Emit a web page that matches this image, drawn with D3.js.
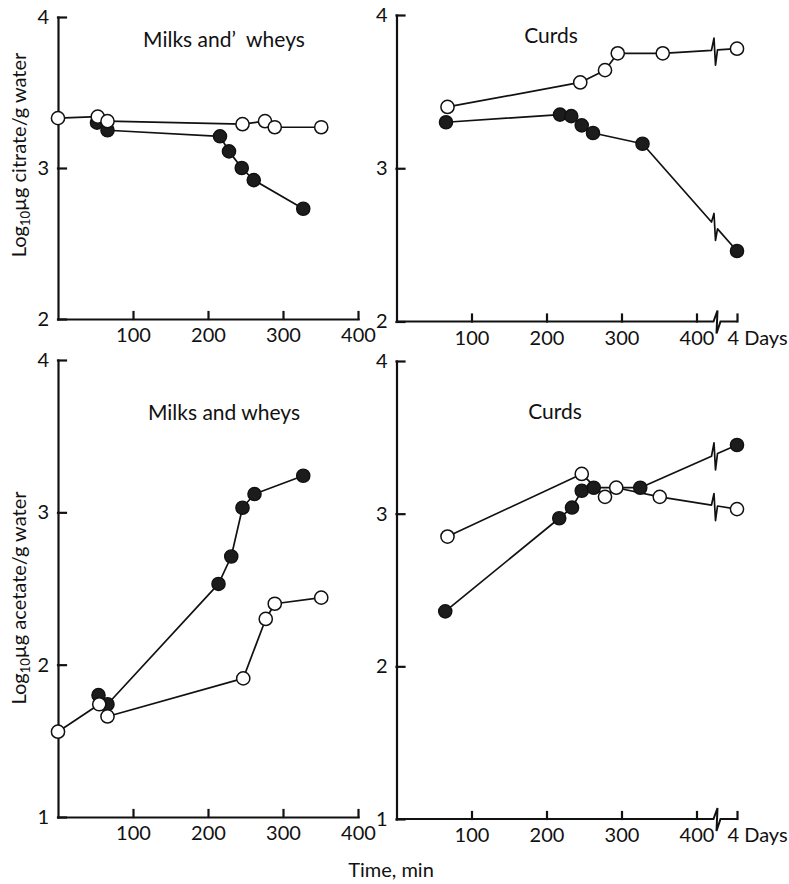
<!DOCTYPE html>
<html>
<head>
<meta charset="utf-8">
<script src="https://cdn.jsdelivr.net/npm/d3@7"></script>
<style>
  html, body { margin: 0; padding: 0; background: #fff; }
  svg text { font-family: Lato, "Open Sans", sans-serif; fill: #111; }
</style>
</head>
<body>
<svg id="chart" width="789" height="884"></svg>
<script>
// Times are in minutes; the last curd sample is taken after 4 days.
const FOUR_DAYS = 5760;
const BREAK_AT = 428;           // where the broken time axis is cut

const minuteTicks = [100, 200, 300, 400];
const curdTicks = [100, 200, 300, 400, FOUR_DAYS];
const citrateTicks = [2, 3, 4];
const acetateTicks = [1, 2, 3, 4];

// Citrate, milks and wheys
const citMilkOpenT   = [0, 53, 66, 246, 276, 289, 351];
const citMilkOpenV   = [3.33, 3.34, 3.31, 3.29, 3.31, 3.27, 3.27];
const citMilkFilledT = [52, 66, 216, 228, 245, 261, 327];
const citMilkFilledV = [3.30, 3.25, 3.21, 3.11, 3.00, 2.92, 2.73];

// Citrate, curds
const citCurdOpenT   = [68, 245, 278, 295, 355, FOUR_DAYS];
const citCurdOpenV   = [3.40, 3.56, 3.64, 3.75, 3.75, 3.78];
const citCurdFilledT = [66, 218, 233, 247, 262, 328, FOUR_DAYS];
const citCurdFilledV = [3.30, 3.35, 3.34, 3.28, 3.23, 3.16, 2.46];

// Acetate, milks and wheys
const aceMilkOpenT   = [0, 55, 66, 247, 277, 289, 351];
const aceMilkOpenV   = [1.56, 1.74, 1.66, 1.91, 2.30, 2.40, 2.44];
const aceMilkFilledT = [54, 66, 214, 231, 246, 262, 327];
const aceMilkFilledV = [1.80, 1.74, 2.53, 2.71, 3.03, 3.12, 3.24];

// Acetate, curds
const aceCurdOpenT   = [68, 247, 278, 293, 351, FOUR_DAYS];
const aceCurdOpenV   = [2.85, 3.26, 3.11, 3.17, 3.11, 3.03];
const aceCurdFilledT = [65, 217, 234, 247, 263, 325, FOUR_DAYS];
const aceCurdFilledV = [2.36, 2.97, 3.04, 3.15, 3.17, 3.17, 3.45];

const svg = d3.select("#chart");
const INK = "#111";

const panels = [
  { left: 58,    bottom: 319,   top: 17,  yDomain: [2, 4], yTicks: citrateTicks, broken: false,
    title: "Milks and\u2019  wheys", titleX: 224, titleY: 47,
    open: [citMilkOpenT, citMilkOpenV], filled: [citMilkFilledT, citMilkFilledV] },
  { left: 396.5, bottom: 321.5, top: 15,  yDomain: [2, 4], yTicks: citrateTicks, broken: true,
    title: "Curds", titleX: 551, titleY: 43,
    open: [citCurdOpenT, citCurdOpenV], filled: [citCurdFilledT, citCurdFilledV] },
  { left: 58,    bottom: 817,   top: 360, yDomain: [1, 4], yTicks: acetateTicks, broken: false,
    title: "Milks and wheys", titleX: 224, titleY: 420,
    open: [aceMilkOpenT, aceMilkOpenV], filled: [aceMilkFilledT, aceMilkFilledV] },
  { left: 396.5, bottom: 819,   top: 361, yDomain: [1, 4], yTicks: acetateTicks, broken: true,
    title: "Curds", titleX: 555, titleY: 419,
    open: [aceCurdOpenT, aceCurdOpenV], filled: [aceCurdFilledT, aceCurdFilledV] }
];

function zip(t, v) { return t.map((d, i) => ({ t: d, v: v[i] })); }

// Line path through the points; a segment that jumps over the axis
// break gets a small zig-zag where it crosses the cut.
function seriesPath(pts, x, y, xb) {
  let d = "";
  pts.forEach((p, i) => {
    const px = x(p.t), py = y(p.v);
    if (i === 0) { d += `M${px},${py}`; return; }
    const q = pts[i - 1];
    const qx = x(q.t), qy = y(q.v);
    if (xb !== null && qx < xb && px > xb) {
      const at = xx => qy + (py - qy) * (xx - qx) / (px - qx);
      const x1 = xb - 3, x2 = xb + 3;
      d += `L${x1},${at(x1)}L${xb - 0.5},${at(xb) - 12}L${xb + 1},${at(xb) + 15}L${x2},${at(x2)}`;
    }
    d += `L${px},${py}`;
  });
  return d;
}

panels.forEach(p => {
  const g = svg.append("g");

  const y = d3.scaleLinear().domain(p.yDomain).range([p.bottom, p.top]);
  const x = p.broken
    ? d3.scaleLinear().domain([0, BREAK_AT, FOUR_DAYS])
        .range([p.left, p.left + 0.75 * BREAK_AT, p.left + 340.5])
    : d3.scaleLinear().domain([0, 400]).range([p.left, p.left + 300]);

  // y axis with inward ticks
  const yAxis = g.append("g")
    .attr("transform", `translate(${p.left},0)`)
    .call(d3.axisLeft(y).tickValues(p.yTicks).tickFormat(d3.format("d"))
      .tickSizeInner(-8).tickSizeOuter(0).tickPadding(9));

  // x axis with inward ticks
  const xAxis = g.append("g")
    .attr("transform", `translate(0,${p.bottom})`)
    .call(d3.axisBottom(x).tickValues(p.broken ? curdTicks : minuteTicks)
      .tickFormat(d => d === FOUR_DAYS ? "4 Days" : d3.format("d")(d))
      .tickSizeInner(-7).tickSizeOuter(0).tickPadding(9));

  [yAxis, xAxis].forEach(a => {
    a.selectAll(".domain, .tick line")
      .attr("stroke", INK).attr("stroke-width", 2.2).attr("stroke-linecap", "square");
    a.selectAll(".tick text").attr("font-size", 20).attr("fill", INK)
      .style("font-family", "Lato, 'Open Sans', sans-serif");
  });

  if (p.broken) {
    xAxis.select(".domain").remove();
    const xb = x(BREAK_AT) - 1;
    const x0 = x.range()[0], x1 = x.range()[2];
    g.append("path")
      .attr("d", `M${x0},${p.bottom}H${xb - 3}L${xb + 1},${p.bottom - 11}L${xb},${p.bottom + 12}L${xb + 4},${p.bottom}H${x1}`)
      .attr("fill", "none").attr("stroke", INK).attr("stroke-width", 2)
      .attr("stroke-linejoin", "miter");
    xAxis.selectAll(".tick text")
      .filter(d => d === FOUR_DAYS)
      .attr("text-anchor", "start").attr("dx", -10);
  }

  // series lines
  const xbData = p.broken ? x(BREAK_AT) - 3 : null;
  const openPts = zip(p.open[0], p.open[1]);
  const filledPts = zip(p.filled[0], p.filled[1]);
  [filledPts, openPts].forEach(pts => {
    g.append("path")
      .attr("d", seriesPath(pts, x, y, xbData))
      .attr("fill", "none").attr("stroke", INK).attr("stroke-width", 1.7)
      .attr("stroke-linejoin", "round");
  });

  // markers: filled first, open circles on top
  g.selectAll("circle.filled").data(filledPts).join("circle")
    .attr("class", "filled")
    .attr("cx", d => x(d.t)).attr("cy", d => y(d.v)).attr("r", 6.6)
    .attr("fill", "#1c1c1c").attr("stroke", INK).attr("stroke-width", 1.4);
  g.selectAll("circle.open").data(openPts).join("circle")
    .attr("class", "open")
    .attr("cx", d => x(d.t)).attr("cy", d => y(d.v)).attr("r", 6.6)
    .attr("fill", "#fff").attr("stroke", INK).attr("stroke-width", 1.5);

  g.append("text")
    .attr("x", p.titleX).attr("y", p.titleY)
    .attr("text-anchor", "middle").attr("font-size", 21)
    .style("white-space", "pre")
    .text(p.title);
});

// y-axis titles with subscript
function yTitle(cy, rest) {
  const t = svg.append("text")
    .attr("transform", `translate(26,${cy}) rotate(-90)`)
    .attr("text-anchor", "middle").attr("font-size", 20);
  t.append("tspan").text("Log");
  t.append("tspan").attr("font-size", 13).attr("dy", 4).text("10");
  t.append("tspan").attr("dy", -4).text("\u00b5g " + rest);
}
yTitle(155, "citrate/g water");
yTitle(598, "acetate/g water");

svg.append("text")
  .attr("x", 391).attr("y", 877)
  .attr("text-anchor", "middle").attr("font-size", 20)
  .text("Time, min");
</script>
</body>
</html>
